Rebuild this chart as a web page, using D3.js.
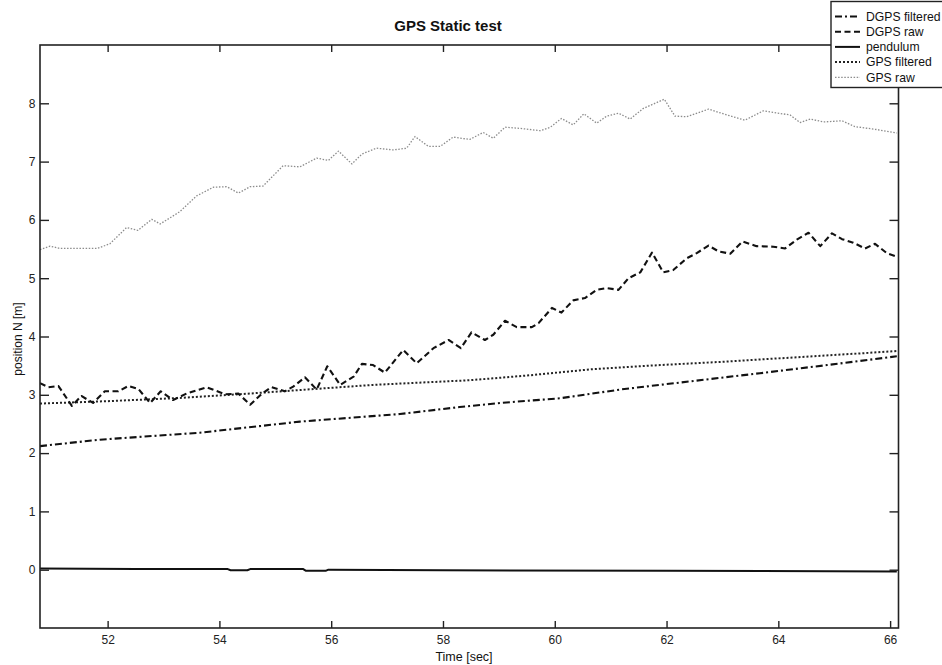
<!DOCTYPE html>
<html>
<head>
<meta charset="utf-8">
<script src="https://cdn.jsdelivr.net/npm/d3@7"></script>
<style>
  html, body { margin: 0; padding: 0; background: #fff; }
  svg { display: block; font-family: Arial, "Liberation Sans", Helvetica, sans-serif; }
</style>
</head>
<body>
<svg id="chart" width="942" height="665"></svg>
<script>
// Static position test: north position of the GPS/DGPS solutions against the pendulum reference

const xTicks = [52, 54, 56, 58, 60, 62, 64, 66];
const yTicks = [0, 1, 2, 3, 4, 5, 6, 7, 8];

// DGPS filtered
const dgpsFiltT = [50.79, 51.86, 53.65, 55.44, 57.23, 58.30, 59.02, 60.09, 61.17, 61.88, 63.67, 64.87, 66.12];
const dgpsFiltV = [2.12, 2.23, 2.35, 2.54, 2.67, 2.79, 2.86, 2.94, 3.09, 3.17, 3.37, 3.51, 3.66];

// DGPS raw
const dgpsRawT = [50.79, 50.94, 51.12, 51.36, 51.53, 51.74, 51.95, 52.19, 52.37, 52.55, 52.76, 52.95, 53.17, 53.41,
  53.77, 54.10, 54.34, 54.55, 54.76, 54.93, 55.17, 55.32, 55.53, 55.74, 55.93, 56.16, 56.40, 56.55, 56.75, 56.96,
  57.29, 57.53, 57.83, 58.10, 58.32, 58.51, 58.75, 58.90, 59.11, 59.32, 59.59, 59.71, 59.95, 60.12, 60.33, 60.54,
  60.75, 60.93, 61.14, 61.32, 61.53, 61.74, 61.94, 62.12, 62.36, 62.54, 62.75, 62.93, 63.14, 63.36, 63.61, 63.91,
  64.12, 64.33, 64.54, 64.75, 64.96, 65.14, 65.34, 65.55, 65.73, 65.94, 66.12];
const dgpsRawV = [3.20, 3.13, 3.15, 2.81, 2.98, 2.86, 3.06, 3.06, 3.15, 3.10, 2.86, 3.06, 2.91, 3.02,
  3.13, 3.01, 3.02, 2.83, 3.02, 3.13, 3.06, 3.14, 3.30, 3.09, 3.49, 3.17, 3.31, 3.53, 3.51, 3.38,
  3.77, 3.54, 3.80, 3.94, 3.80, 4.07, 3.94, 4.03, 4.27, 4.16, 4.16, 4.23, 4.49, 4.41, 4.62, 4.66,
  4.80, 4.83, 4.80, 5.00, 5.10, 5.44, 5.10, 5.14, 5.34, 5.43, 5.56, 5.46, 5.42, 5.63, 5.55, 5.54,
  5.51, 5.66, 5.78, 5.55, 5.77, 5.67, 5.61, 5.51, 5.59, 5.43, 5.37];

// pendulum reference
const pendT = [50.79, 52.5, 54.15, 54.2, 54.5, 54.55, 55.5, 55.55, 55.9, 55.95, 58.0, 62.0, 66.12];
const pendV = [0.02, 0.01, 0.01, -0.01, -0.01, 0.01, 0.01, -0.02, -0.02, 0.0, -0.01, -0.02, -0.03];

// GPS filtered
const gpsFiltT = [50.79, 51.98, 53.17, 54.37, 55.56, 56.75, 58.48, 59.50, 60.68, 61.88, 63.08, 64.26, 65.46, 66.12];
const gpsFiltV = [2.85, 2.89, 2.94, 3.01, 3.09, 3.17, 3.25, 3.33, 3.44, 3.51, 3.57, 3.64, 3.71, 3.75];

// GPS raw
const gpsRawT = [50.79, 50.97, 51.15, 51.81, 52.04, 52.34, 52.54, 52.79, 52.94, 53.29, 53.59, 53.89, 54.13, 54.34,
  54.55, 54.78, 55.14, 55.44, 55.74, 55.95, 56.13, 56.37, 56.55, 56.81, 57.11, 57.35, 57.50, 57.74, 57.95, 58.18,
  58.48, 58.72, 58.90, 59.11, 59.38, 59.74, 59.92, 60.12, 60.33, 60.52, 60.75, 60.93, 61.14, 61.35, 61.58, 61.96,
  62.15, 62.36, 62.75, 63.08, 63.40, 63.73, 64.21, 64.39, 64.57, 64.81, 65.14, 65.37, 65.76, 66.12];
const gpsRawV = [5.49, 5.55, 5.51, 5.51, 5.59, 5.87, 5.82, 6.01, 5.93, 6.14, 6.41, 6.56, 6.57, 6.46,
  6.57, 6.58, 6.93, 6.91, 7.06, 7.02, 7.18, 6.96, 7.13, 7.23, 7.20, 7.23, 7.43, 7.26, 7.26, 7.42,
  7.38, 7.50, 7.40, 7.59, 7.57, 7.53, 7.59, 7.74, 7.63, 7.82, 7.66, 7.78, 7.83, 7.73, 7.91, 8.07,
  7.78, 7.77, 7.90, 7.80, 7.71, 7.87, 7.80, 7.67, 7.73, 7.68, 7.70, 7.60, 7.55, 7.49];

const seriesNames = ["DGPS filtered", "DGPS raw", "pendulum", "GPS filtered", "GPS raw"];

const series = [
  { name: seriesNames[0], t: dgpsFiltT, v: dgpsFiltV, color: "#111", width: 2.1, dash: "7,3,2,3" },
  { name: seriesNames[1], t: dgpsRawT, v: dgpsRawV, color: "#111", width: 2.1, dash: "6,3.5" },
  { name: seriesNames[2], t: pendT, v: pendV, color: "#111", width: 2.0, dash: null },
  { name: seriesNames[3], t: gpsFiltT, v: gpsFiltV, color: "#222", width: 2.0, dash: "2,2" },
  { name: seriesNames[4], t: gpsRawT, v: gpsRawV, color: "#8c8c8c", width: 1.3, dash: "1.5,1.6" }
];

const plot = { left: 40, right: 898.5, top: 45, bottom: 628 };

const x = d3.scaleLinear().domain([50.79, 66.15]).range([plot.left, plot.right]);
const y = d3.scaleLinear().domain([-1, 9]).range([plot.bottom, plot.top]);

const svg = d3.select("#chart");

// data lines (clipped to the axes box)
svg.append("clipPath").attr("id", "plotClip")
  .append("rect")
  .attr("x", plot.left).attr("y", plot.top)
  .attr("width", plot.right - plot.left).attr("height", plot.bottom - plot.top);

const line = d3.line().x(d => x(d[0])).y(d => y(d[1]));

const lines = svg.append("g").attr("clip-path", "url(#plotClip)");
series.slice().reverse().forEach(s => {
  const pts = s.t.map((t, i) => [t, s.v[i]]);
  lines.append("path")
    .datum(pts)
    .attr("d", line)
    .attr("fill", "none")
    .attr("stroke", s.color)
    .attr("stroke-width", s.width)
    .attr("stroke-dasharray", s.dash)
    .attr("stroke-linejoin", "round");
});

// axes with inward ticks on all four sides
const axisColor = "#222";
function styleAxis(g) {
  g.select(".domain").remove();
  g.selectAll(".tick line").attr("stroke", axisColor).attr("stroke-width", 1.4);
  g.selectAll(".tick text").attr("fill", "#222").attr("font-size", 12)
    .attr("font-family", "Arial, 'Liberation Sans', sans-serif");
}

svg.append("g").attr("transform", `translate(0,${plot.bottom})`)
  .call(d3.axisBottom(x).tickValues(xTicks).tickSize(-7).tickPadding(7).tickFormat(d3.format("d")))
  .call(styleAxis);

svg.append("g").attr("transform", `translate(0,${plot.top})`)
  .call(d3.axisTop(x).tickValues(xTicks).tickSize(-7).tickFormat(""))
  .call(styleAxis);

svg.append("g").attr("transform", `translate(${plot.left},0)`)
  .call(d3.axisLeft(y).tickValues(yTicks).tickSize(-9).tickPadding(4.5).tickFormat(d3.format("d")))
  .call(styleAxis);

svg.append("g").attr("transform", `translate(${plot.right},0)`)
  .call(d3.axisRight(y).tickValues(yTicks).tickSize(-9).tickFormat(""))
  .call(styleAxis);

svg.append("rect")
  .attr("x", plot.left).attr("y", plot.top)
  .attr("width", plot.right - plot.left).attr("height", plot.bottom - plot.top)
  .attr("fill", "none").attr("stroke", axisColor).attr("stroke-width", 1.6);

// titles
svg.append("text")
  .attr("x", 448).attr("y", 30.5)
  .attr("text-anchor", "middle")
  .attr("font-size", 15).attr("font-weight", "bold").attr("fill", "#111")
  .text("GPS Static test");

svg.append("text")
  .attr("x", 464).attr("y", 661)
  .attr("text-anchor", "middle")
  .attr("font-size", 12.5).attr("fill", "#111")
  .text("Time [sec]");

svg.append("text")
  .attr("transform", "translate(22,339) rotate(-90)")
  .attr("text-anchor", "middle")
  .attr("font-size", 12).attr("fill", "#111")
  .text("position N [m]");

// legend box in the top-right corner
const legend = svg.append("g");
legend.append("rect")
  .attr("x", 831).attr("y", 1.5)
  .attr("width", 130).attr("height", 86)
  .attr("fill", "#fff").attr("stroke", "#222").attr("stroke-width", 1.4);

series.forEach((s, i) => {
  const cy = 16.5 + i * 15.2;
  legend.append("line")
    .attr("x1", 835).attr("x2", 860).attr("y1", cy).attr("y2", cy)
    .attr("stroke", s.color)
    .attr("stroke-width", s.width)
    .attr("stroke-dasharray", s.dash);
  legend.append("text")
    .attr("x", 866).attr("y", cy + 4.3)
    .attr("font-size", 12.2).attr("fill", "#111")
    .text(s.name);
});
</script>
</body>
</html>
